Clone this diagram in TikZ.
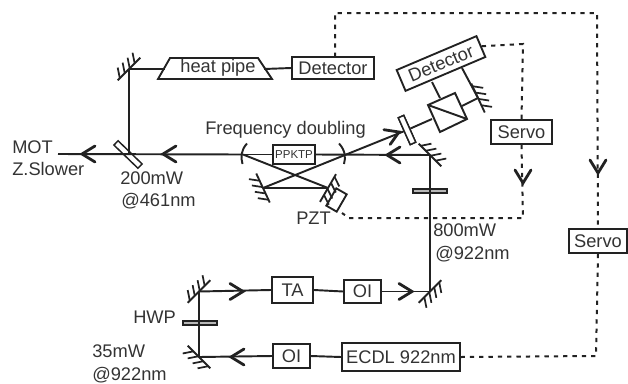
\documentclass[tikz,border=0pt]{standalone}
\usepackage{fontspec}
\setmainfont{Liberation Sans}
\usetikzlibrary{calc}
\definecolor{ink}{HTML}{222222}
\definecolor{txt}{HTML}{333333}
\definecolor{platefill}{HTML}{B8B8B8}
\tikzset{
  x=.75pt,y=-.75pt,
  lab/.style={draw=none,text=txt,font=\fontsize{13.7pt}{15pt}\selectfont,inner sep=0pt},
  rlab/.style={lab,anchor=west},
  box/.style={draw=ink,line width=1.4pt,fill=white,text=txt,font=\fontsize{13.7pt}{15pt}\selectfont,inner sep=0pt},
  smallbox/.style={box,font=\fontsize{8.6pt}{10pt}\selectfont},
  plate/.style={draw=ink,line width=1.1pt,inner sep=0pt},
  beam/.style={draw=ink,line width=1.45pt},
  ctrl/.style={draw=ink,line width=1.5pt,dash pattern=on 3.2pt off 3.8pt},
  chevron/.pic={\draw[draw=ink,line width=2.1pt,line cap=round,line join=miter] (-13,-8) -- (0,0) -- (-13,8);},
  mirror/.pic={
    \draw[draw=ink,line width=1.4pt] (0,-16) -- (0,16);
    \foreach \t in {-13,-6,1,8}{\draw[draw=ink,line width=1.3pt] (0,\t) -- (9,\t+6);}
  }
}
\begin{document}
\begin{tikzpicture}
\useasboundingbox[draw=none] (0,0) rectangle (628,383);

% named optical positions
\coordinate (mTL) at (129,69);
\coordinate (bs) at (129,154);
\coordinate (free) at (58,154);
\coordinate (cavL) at (243,154.5);
\coordinate (cavR) at (345,154.5);
\coordinate (cavBL) at (263,188);
\coordinate (cavBR) at (328,188);
\coordinate (mUR) at (430,155);
\coordinate (mLR) at (430,291.5);
\coordinate (mBT) at (199,291.5);
\coordinate (mBB) at (199,357);
\coordinate (mDet) at (478,98);

% boxes
\node[box,minimum width=61.5pt,minimum height=16.5pt] (det1) at (333,68) {Detector};
\node[smallbox,minimum width=31.5pt,minimum height=14pt] (ppktp) at (294,154.5) {PPKTP};
\node[box,minimum width=45.5pt,minimum height=18pt] (servo1) at (521.5,132) {Servo};
\node[box,minimum width=43.5pt,minimum height=18pt] (servo2) at (598,241) {Servo};
\node[box,minimum width=31pt,minimum height=19.5pt] (ta) at (292.5,290) {TA};
\node[box,minimum width=27.5pt,minimum height=17.5pt] (oi1) at (362.5,291.5) {OI};
\node[box,minimum width=27.5pt,minimum height=17.5pt] (oi2) at (291.5,356) {OI};
\node[box,minimum width=88.5pt,minimum height=21pt] (ecdl) at (401,357) {ECDL 922nm};
\node[box,rotate=23,minimum width=65pt,minimum height=17pt] (det2) at (441,63.5) {Detector};

% heat pipe
\path[draw=ink,line width=1.4pt,fill=white] (170,58) -- (258,58) -- (272,79) -- (158,79) -- cycle;
\node[lab] (hp) at (218,68) {heat pipe};
\coordinate (hpL) at (165,69);
\coordinate (hpR) at (264,69);

% beams
\draw[beam] (mTL) -- (hpL);
\draw[beam] (hpR) -- (det1.west);
\draw[beam] (cavL) -- (ppktp.west);
\draw[beam] (ppktp.east) -- (mUR);
\draw[beam] (cavL) -- (cavBR);
\draw[beam] (cavBR) -- (cavBL);
\coordinate (wp) at (407,130);
\draw[beam] (cavBL) -- (wp);

% waveplate before cube, beam splitter
\node[plate,fill=white,rotate=-66,minimum width=22pt,minimum height=4.5pt] (bsp) at (407,130) {};
\node[plate,fill=white,rotate=-44,minimum width=25pt,minimum height=4.5pt] (bsm) at (128,154.5) {};
\draw[beam] (free) -- (cavL);
\draw[beam] (mTL) -- (bs);

% PBS cube
\coordinate (c1) at (428,105);
\coordinate (c2) at (455,93);
\coordinate (c3) at (467,119);
\coordinate (c4) at (440,132);
\draw[beam] (c1) -- (c2) -- (c3) -- (c4) -- cycle;
\draw[beam] (c1) -- (c3);
\coordinate (cubeIn) at (432,119);
\coordinate (cubeOut) at (462,106);
\coordinate (cubeTop) at (440,98);
\coordinate (detIn) at (432,82);
\coordinate (detIn2) at (462,68);
\draw[beam] (bsp) -- (cubeIn);
\node[plate,fill=white,rotate=-66,minimum width=22pt,minimum height=4.5pt] at (407,130) {};
\draw[beam] (cubeOut) -- (mDet);
\draw[beam] (cubeTop) -- (detIn);
\draw[beam] (mDet) -- (detIn2);

% lower path
\node[plate,fill=platefill,minimum width=25.5pt,minimum height=3pt] (hw1) at (430,191) {};
\draw[beam] (mUR) -- (mLR);
\draw[beam] (mLR) -- (oi1.east);
\draw[beam] (oi1.west) -- (ta.east);
\draw[beam] (ta.west) -- (mBT);
\node[plate,fill=platefill,minimum width=25.5pt,minimum height=3pt] (hw2) at (200,323) {};
\draw[beam] (mBT) -- (mBB);
\draw[beam] (mBB) -- (oi2.west);
\draw[beam] (oi2.east) -- (ecdl.west);

% curved mirrors
\draw[beam] (247,143.5) .. controls (241,150) and (240.5,157) .. (242.5,164);
\draw[beam] (339,143.5) .. controls (345,150) and (346,157) .. (344,164);

% flat mirrors
\pic[rotate=135] at (mTL) {mirror};
\pic[rotate=45] at (mUR) {mirror};
\pic[rotate=-45] at (mLR) {mirror};
\pic[rotate=135] at (mBT) {mirror};
\pic[rotate=225] at (mBB) {mirror};
\pic[rotate=205] at (cavBL) {mirror};
\pic[rotate=25] at (mDet) {mirror};
\pic[rotate=-30] at (cavBR) {mirror};
\node[draw=ink,line width=1.4pt,rotate=-30,minimum width=9pt,minimum height=15pt,inner sep=0pt] (pzt) at (336.5,200) {};

% chevrons
\pic[rotate=180] at (82,154) {chevron};
\pic[rotate=180] at (163,154) {chevron};
\pic[rotate=23] at (399,132) {chevron};
\pic[rotate=180] at (387,155) {chevron};
\pic[rotate=0] at (243,291.5) {chevron};
\pic[rotate=0] at (412,291.5) {chevron};
\pic[rotate=180] at (231,357) {chevron};

% servo lines
\coordinate (t0) at (335,57);
\coordinate (t1) at (335,13);
\coordinate (t2) at (597,13);
\coordinate (u1) at (523,44);
\coordinate (u2) at (523,218);
\coordinate (u3) at (349,218);
\coordinate (u4) at (342,213);
\coordinate (v1) at (596,356);
\draw[ctrl] (t0) -- (t1) -- (t2) -- (servo2.north);
\draw[ctrl] (det2.east) -- (u1) -- (servo1.north);
\draw[ctrl] (servo1.south) -- (u2) -- (u3) -- (u4);
\draw[ctrl] (servo2.south) -- (v1) -- (ecdl.east);
\pic[rotate=-90] at (523,183) {chevron};
\pic[rotate=-90] at (598,173) {chevron};

% labels
\node[rlab] (tMOT) at (12,147) {MOT};
\node[rlab] (tZ) at (12,169) {Z.Slower};
\node[rlab] (t200) at (120,178) {200mW};
\node[rlab] (t461) at (121,201.5) {@461nm};
\node[rlab] (tFD) at (205,130) {Frequency doubling};
\node[rlab] (tPZT) at (296,218) {PZT};
\node[rlab] (t800) at (433,230) {800mW};
\node[rlab] (t922a) at (435,254) {@922nm};
\node[rlab] (tHWP) at (133,317) {HWP};
\node[rlab] (t35) at (92,351) {35mW};
\node[rlab] (t922b) at (92,375) {@922nm};
\end{tikzpicture}
\end{document}
